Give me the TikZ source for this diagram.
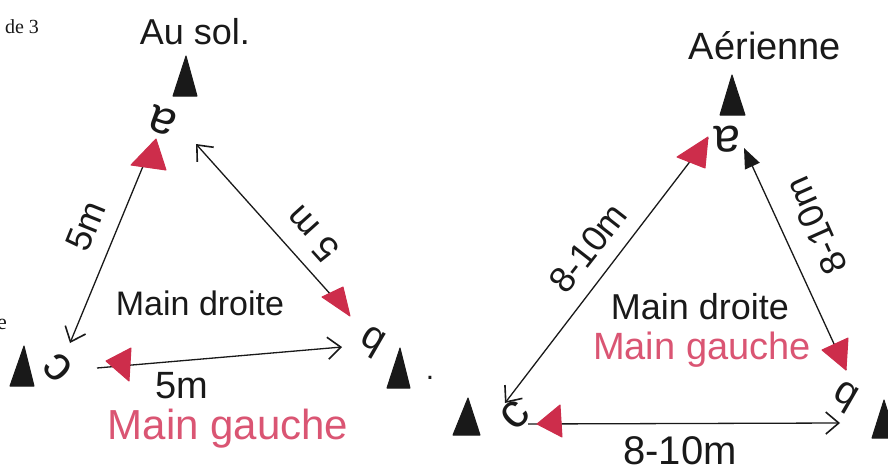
\documentclass[tikz,border=0pt]{standalone}
\usepackage{fontspec}
\setmainfont{Liberation Sans}
\newfontfamily\serifdoc{Liberation Serif}
\usetikzlibrary{arrows.meta}
\definecolor{ink}{RGB}{25,25,25}
\definecolor{redink}{RGB}{205,45,75}
\definecolor{redtext}{RGB}{218,85,115}
\tikzset{
  txt/.style={inner sep=0pt, text=ink, font=\fontsize{#1}{#1}\selectfont},
  rtxt/.style={inner sep=0pt, text=redtext, font=\fontsize{#1}{#1}\selectfont},
  conn/.style={draw=ink, line width=1.3pt},
  barb/.style={-{Straight Barb[length=13pt,width=22pt,line width=1.6pt]}},
  conebk/.style={fill=ink, draw=ink, line width=1pt, line join=round},
  conerd/.style={fill=redink, draw=redink, line width=1pt, line join=round}
}
\begin{document}
\begin{tikzpicture}[x=1pt,y=-1pt]
\useasboundingbox (0,0) rectangle (888,464);
\begin{scope}
\clip (0,0) rectangle (888,464);
% ---------- left: Au sol ----------
\node[inner sep=0pt, text=ink, font=\serifdoc\fontsize{20}{20}\selectfont] (de3) at (22,27) {de 3};
\node[inner sep=0pt, text=ink, font=\serifdoc\fontsize{22}{22}\selectfont] (edge) at (2,324) {e};
\node[txt=36] (ausol) at (195,32) {Au sol.};
% cones
\draw[conebk] (173,96) -- (186,56) -- (197,96) -- cycle;
\draw[conebk] (10,386) -- (24,346) -- (34,386) -- cycle;
\draw[conebk] (387,388) -- (400,348) -- (410,388) -- cycle;
% letters
\node[txt=48, rotate=160] (la) at (163,121) {a};
\node[txt=40, rotate=150] (lb) at (372,342) {b};
\node[txt=48, rotate=135] (lc) at (58,368) {c};
\node[txt=30] (ldot) at (430,378) {.};
% connector ends
\coordinate (l1s) at (153,142);
\coordinate (l1e) at (70,343);
\coordinate (l2s) at (349,315);
\coordinate (l2e) at (196,144);
\coordinate (l3s) at (97,368);
\coordinate (l3e) at (342,347);
\draw[conn, barb] (l1s) -- (l1e);
\draw[conn, barb] (l2s) -- (l2e);
\draw[conn, barb] (l3s) -- (l3e);
% red cones
\draw[conerd] (156,139) -- (131,165) -- (166,170) -- cycle;
\draw[conerd] (350,316) -- (322,297) -- (343,287) -- cycle;
\draw[conerd] (106,361) -- (131,348) -- (129,381) -- cycle;
% labels
\node[txt=36, rotate=68] (l1lab) at (86,226) {5m};
\node[txt=36, rotate=132] (l2lab) at (312,234) {5 m};
\node[txt=38] (l3lab) at (182,386) {5m};
\node[txt=34] (ldroite) at (200,303) {Main droite};
\node[rtxt=42] (lgauche) at (228,429) {Main gauche};
% ---------- right: Aerienne ----------
\node[txt=38] (aer) at (765,46) {Aérienne};
\draw[conebk] (720,115) -- (732,75) -- (745,115) -- cycle;
\draw[conebk] (453,435) -- (468,398) -- (480,435) -- cycle;
\draw[conebk] (872,438) -- (884,400) -- (896,438) -- cycle;
\node[txt=48, rotate=180] (ra) at (727,139) {a};
\node[txt=40, rotate=150] (rb) at (845,397) {b};
\node[txt=48, rotate=45] (rc) at (515,415) {c};
\coordinate (r1s) at (708,138);
\coordinate (r1e) at (505,403);
\coordinate (r2s) at (846,370);
\coordinate (r2e) at (744,148);
\coordinate (r3s) at (528,424);
\coordinate (r3e) at (840,423);
\draw[conn, barb] (r1s) -- (r1e);
\draw[conn, -{Triangle[length=20pt,width=16pt]}] (r2s) -- (r2e);
\draw[conn, barb] (r3s) -- (r3e);
\draw[conerd] (708,137) -- (677,157) -- (705,168) -- cycle;
\draw[conerd] (846,370) -- (822,350) -- (848,338) -- cycle;
\draw[conerd] (537,424) -- (560,405) -- (562,437) -- cycle;
\node[txt=36, rotate=52] (r1lab) at (588,248) {8-10m};
\node[txt=36, rotate=114] (r2lab) at (816,226) {8-10m};
\node[txt=40] (r3lab) at (680,451) {8-10m};
\node[txt=36] (rdroite) at (700,307) {Main droite};
\node[rtxt=38] (rgauche) at (702,350) {Main gauche};
\end{scope}
\end{tikzpicture}
\end{document}
